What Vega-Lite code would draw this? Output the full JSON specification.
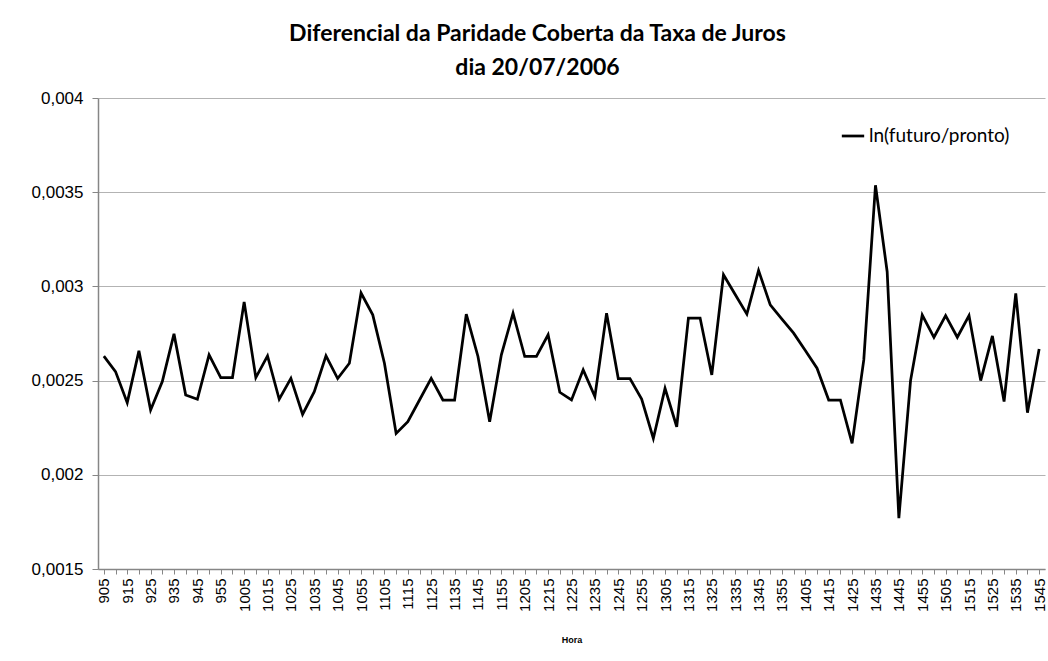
{
  "$schema": "https://vega.github.io/schema/vega-lite/v6.json",
  "autosize": {"type": "none"},
  "padding": {"left": 98, "top": 98, "right": 3, "bottom": 92},
  "width": 947,
  "height": 471,
  "background": "white",
  "title": {
    "text": ["Diferencial da Paridade Coberta da Taxa de Juros", "dia 20/07/2006"],
    "font": "Lato",
    "fontSize": 23,
    "fontWeight": "bold",
    "color": "black",
    "lineHeight": 34,
    "anchor": "middle",
    "dx": -34,
    "offset": 9
  },
  "data": {
    "values": [
      {"hora": 905, "valor": 0.00263},
      {"hora": 910, "valor": 0.002548},
      {"hora": 915, "valor": 0.002383},
      {"hora": 920, "valor": 0.002658},
      {"hora": 925, "valor": 0.002344},
      {"hora": 930, "valor": 0.002495},
      {"hora": 935, "valor": 0.002748},
      {"hora": 940, "valor": 0.002424},
      {"hora": 945, "valor": 0.002401},
      {"hora": 950, "valor": 0.002637},
      {"hora": 955, "valor": 0.002516},
      {"hora": 1000, "valor": 0.002516},
      {"hora": 1005, "valor": 0.002918},
      {"hora": 1010, "valor": 0.002516},
      {"hora": 1015, "valor": 0.002631},
      {"hora": 1020, "valor": 0.002401},
      {"hora": 1025, "valor": 0.002512},
      {"hora": 1030, "valor": 0.002321},
      {"hora": 1035, "valor": 0.002441},
      {"hora": 1040, "valor": 0.002631},
      {"hora": 1045, "valor": 0.002511},
      {"hora": 1050, "valor": 0.002592},
      {"hora": 1055, "valor": 0.002965},
      {"hora": 1100, "valor": 0.002849},
      {"hora": 1105, "valor": 0.002592},
      {"hora": 1110, "valor": 0.00222},
      {"hora": 1115, "valor": 0.002282},
      {"hora": 1120, "valor": 0.002397},
      {"hora": 1125, "valor": 0.002512},
      {"hora": 1130, "valor": 0.002397},
      {"hora": 1135, "valor": 0.002397},
      {"hora": 1140, "valor": 0.002853},
      {"hora": 1145, "valor": 0.002628},
      {"hora": 1150, "valor": 0.002282},
      {"hora": 1155, "valor": 0.002637},
      {"hora": 1200, "valor": 0.002858},
      {"hora": 1205, "valor": 0.002628},
      {"hora": 1210, "valor": 0.002628},
      {"hora": 1215, "valor": 0.002743},
      {"hora": 1220, "valor": 0.002438},
      {"hora": 1225, "valor": 0.002397},
      {"hora": 1230, "valor": 0.002557},
      {"hora": 1235, "valor": 0.002415},
      {"hora": 1240, "valor": 0.002858},
      {"hora": 1245, "valor": 0.002511},
      {"hora": 1250, "valor": 0.002511},
      {"hora": 1255, "valor": 0.002402},
      {"hora": 1300, "valor": 0.002193},
      {"hora": 1305, "valor": 0.002459},
      {"hora": 1310, "valor": 0.002255},
      {"hora": 1315, "valor": 0.002832},
      {"hora": 1320, "valor": 0.002832},
      {"hora": 1325, "valor": 0.00253},
      {"hora": 1330, "valor": 0.003062},
      {"hora": 1335, "valor": 0.002957},
      {"hora": 1340, "valor": 0.002853},
      {"hora": 1345, "valor": 0.003085},
      {"hora": 1350, "valor": 0.002902},
      {"hora": 1355, "valor": 0.002826},
      {"hora": 1400, "valor": 0.002752},
      {"hora": 1405, "valor": 0.00266},
      {"hora": 1410, "valor": 0.002566},
      {"hora": 1415, "valor": 0.002397},
      {"hora": 1420, "valor": 0.002397},
      {"hora": 1425, "valor": 0.002167},
      {"hora": 1430, "valor": 0.00261},
      {"hora": 1435, "valor": 0.003537},
      {"hora": 1440, "valor": 0.003078},
      {"hora": 1445, "valor": 0.00177},
      {"hora": 1450, "valor": 0.0025},
      {"hora": 1455, "valor": 0.002848},
      {"hora": 1500, "valor": 0.00273},
      {"hora": 1505, "valor": 0.002845},
      {"hora": 1510, "valor": 0.00273},
      {"hora": 1515, "valor": 0.002845},
      {"hora": 1520, "valor": 0.0025},
      {"hora": 1525, "valor": 0.002737},
      {"hora": 1530, "valor": 0.002389},
      {"hora": 1535, "valor": 0.002963},
      {"hora": 1540, "valor": 0.00233},
      {"hora": 1545, "valor": 0.002668}
    ]
  },
  "mark": {"type": "line", "strokeWidth": 2.75, "strokeJoin": "miter", "interpolate": "linear"},
  "encoding": {
    "x": {
      "field": "hora",
      "type": "ordinal",
      "scale": {"type": "point", "padding": 0.5},
      "axis": {
        "title": "Hora",
        "titleFont": "Liberation Sans",
        "titleFontSize": 9,
        "titleFontWeight": "bold",
        "titleColor": "black",
        "titlePadding": 24,
        "labelAngle": 270,
        "labelFont": "Liberation Sans",
        "labelFontSize": 15,
        "labelColor": "black",
        "labelPadding": 4,
        "labelOverlap": false,
        "labelExpr": "datum.value % 10 == 5 ? datum.label : ''",
        "domainColor": "#868686",
        "domainWidth": 1.5,
        "tickColor": "#868686",
        "tickSize": 5,
        "grid": false
      }
    },
    "y": {
      "field": "valor",
      "type": "quantitative",
      "scale": {"domain": [0.0015, 0.004], "nice": false, "zero": false},
      "axis": {
        "title": null,
        "values": [0.0015, 0.002, 0.0025, 0.003, 0.0035, 0.004],
        "labelExpr": "replace(format(datum.value, '.4~f'), '.', ',')",
        "labelFont": "Liberation Sans",
        "labelFontSize": 17,
        "labelColor": "black",
        "labelPadding": 9,
        "domainColor": "#868686",
        "domainWidth": 1.5,
        "tickColor": "#868686",
        "tickSize": 6,
        "grid": true,
        "gridColor": "#b3b3b3",
        "gridWidth": 1.2
      }
    },
    "color": {
      "datum": "ln(futuro/pronto)",
      "scale": {"range": ["black"]},
      "legend": {
        "title": null,
        "orient": "none",
        "legendX": 742,
        "legendY": 25,
        "symbolType": "stroke",
        "symbolStrokeWidth": 2.75,
        "symbolSize": 500,
        "labelFont": "Lato",
        "labelFontSize": 19,
        "labelColor": "black",
        "labelOffset": 3
      }
    }
  },
  "config": {
    "view": {"stroke": null}
  }
}
